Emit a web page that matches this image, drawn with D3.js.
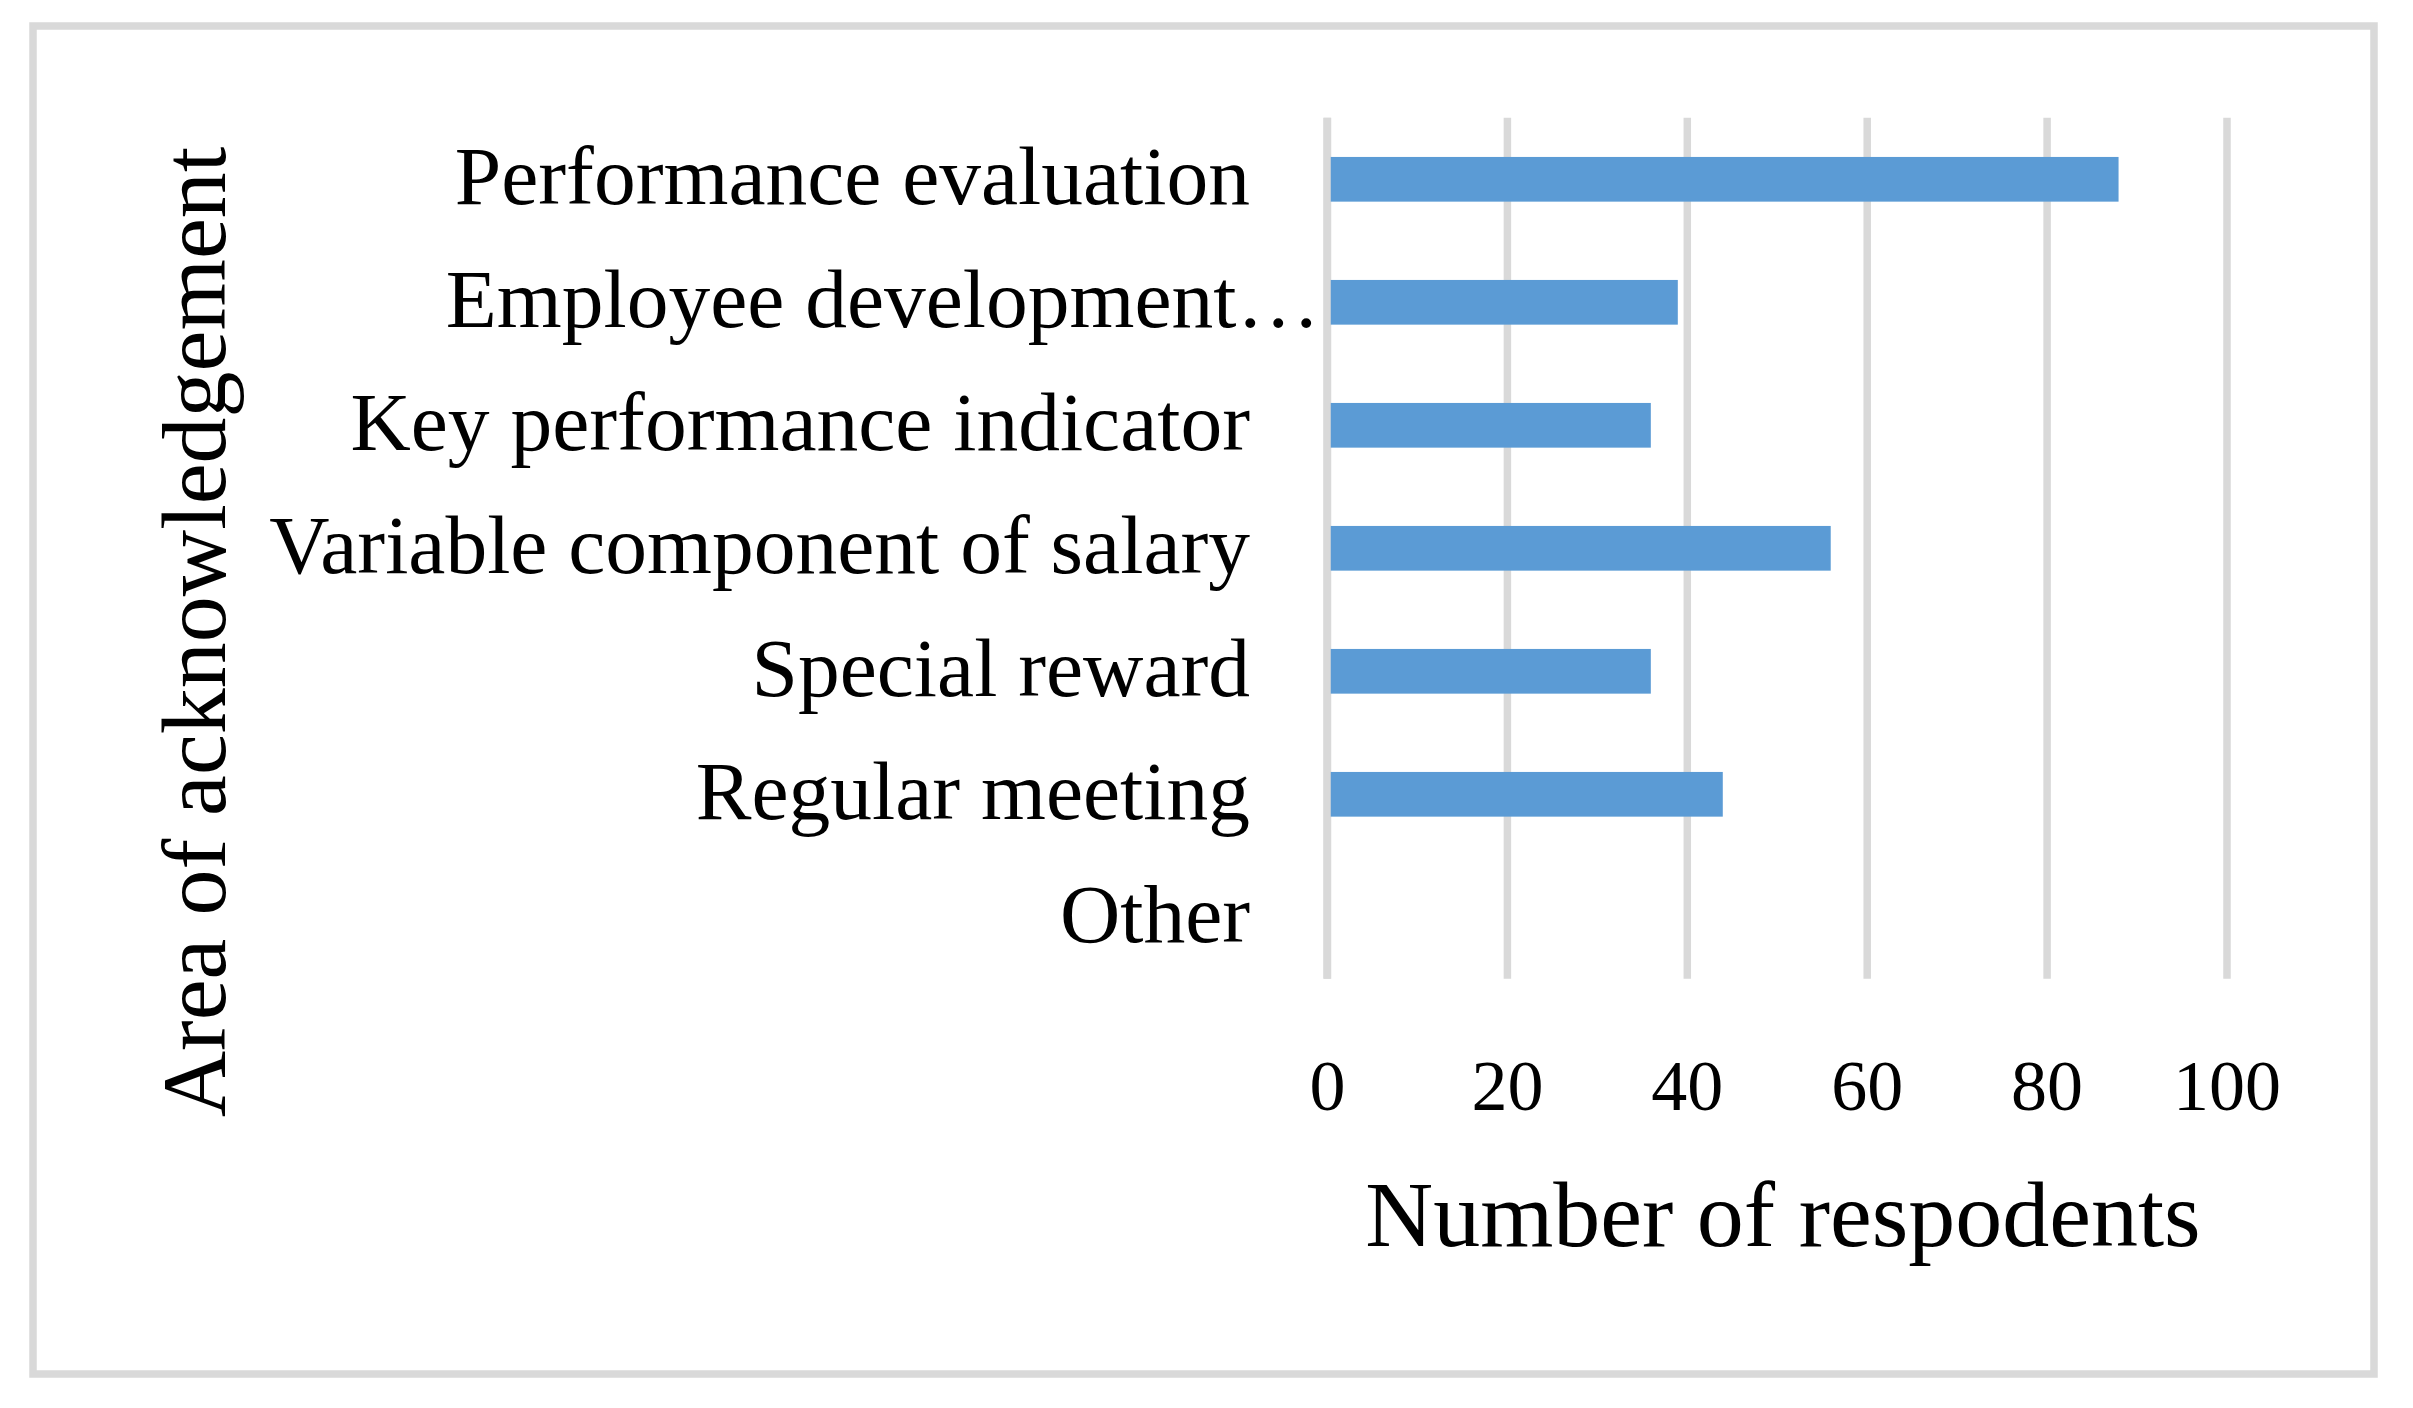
<!DOCTYPE html>
<html>
<head>
<meta charset="utf-8">
<script src="https://cdn.jsdelivr.net/npm/d3@7"></script>
<style>
  body { margin: 0; background: #fff; }
  text { font-family: "Liberation Serif", "Times New Roman", serif; fill: #000; }
</style>
</head>
<body>
<svg id="chart" width="2413" height="1408"></svg>
<script>
// data
const categories = [
    "Performance evaluation",
    "Employee development…",
    "Key performance indicator",
    "Variable component of salary",
    "Special reward",
    "Regular meeting",
    "Other"
];
const respondents = [88, 39, 36, 56, 36, 44, 0];
const xTicks = [0, 20, 40, 60, 80, 100];

const xTitle = "Number of respodents";
const yTitle = "Area of acknowledgement";

const svg = d3.select("#chart");

const plot = { left: 1327, right: 2226.5, top: 117.8, bottom: 978.8 };
const gridColor = "#d9d9d9";

// chart border
svg.append("rect")
    .attr("x", 33)
    .attr("y", 26)
    .attr("width", 2341)
    .attr("height", 1348)
    .attr("fill", "#fff")
    .attr("stroke", gridColor)
    .attr("stroke-width", 7.5);

const x = d3.scaleLinear().domain([0, 100]).range([plot.left, plot.right]);
const y = d3.scaleBand()
    .domain(categories)
    .range([plot.top, plot.bottom])
    .paddingInner(0.6366)
    .paddingOuter(0.3183);

// vertical gridlines
const grid = svg.append("g")
    .attr("transform", "translate(0," + plot.bottom + ")")
    .call(d3.axisBottom(x).tickValues(xTicks).tickSize(-(plot.bottom - plot.top)).tickFormat(""));
grid.select(".domain").remove();
grid.selectAll(".tick line")
    .attr("stroke", gridColor)
    .attr("stroke-width", 7.5);

// bars
svg.append("g")
    .selectAll("rect")
    .data(categories)
    .enter().append("rect")
    .attr("x", x(0))
    .attr("y", d => y(d))
    .attr("width", (d, i) => x(respondents[i]) - x(0))
    .attr("height", y.bandwidth())
    .attr("fill", "#5b9bd5");

// zero line over the bars
svg.append("line")
    .attr("x1", x(0)).attr("x2", x(0))
    .attr("y1", plot.top).attr("y2", plot.bottom)
    .attr("stroke", gridColor)
    .attr("stroke-width", 7.5);

// x tick labels
const xAxis = svg.append("g")
    .attr("transform", "translate(0," + plot.bottom + ")")
    .call(d3.axisBottom(x).tickValues(xTicks).tickSize(0).tickPadding(80));
xAxis.select(".domain").remove();
xAxis.selectAll("text")
    .attr("font-size", 72)
    .attr("font-family", null);

// category labels
const yAxis = svg.append("g")
    .attr("transform", "translate(" + plot.left + ",0)")
    .call(d3.axisLeft(y).tickSize(0).tickPadding(77));
yAxis.select(".domain").remove();
yAxis.selectAll("text")
    .attr("font-size", 83.5)
    .attr("font-family", null)
    .attr("dy", "0.29em")
    // the truncated label runs on past the others, up to the axis
    .attr("dx", d => d.endsWith("…") ? 70 : 0);

// axis titles
svg.append("text")
    .attr("x", 1783)
    .attr("y", 1246)
    .attr("text-anchor", "middle")
    .attr("font-size", 94)
    .text(xTitle);

svg.append("text")
    .attr("transform", "translate(225,632) rotate(-90)")
    .attr("text-anchor", "middle")
    .attr("font-size", 92)
    .text(yTitle);
</script>
</body>
</html>
